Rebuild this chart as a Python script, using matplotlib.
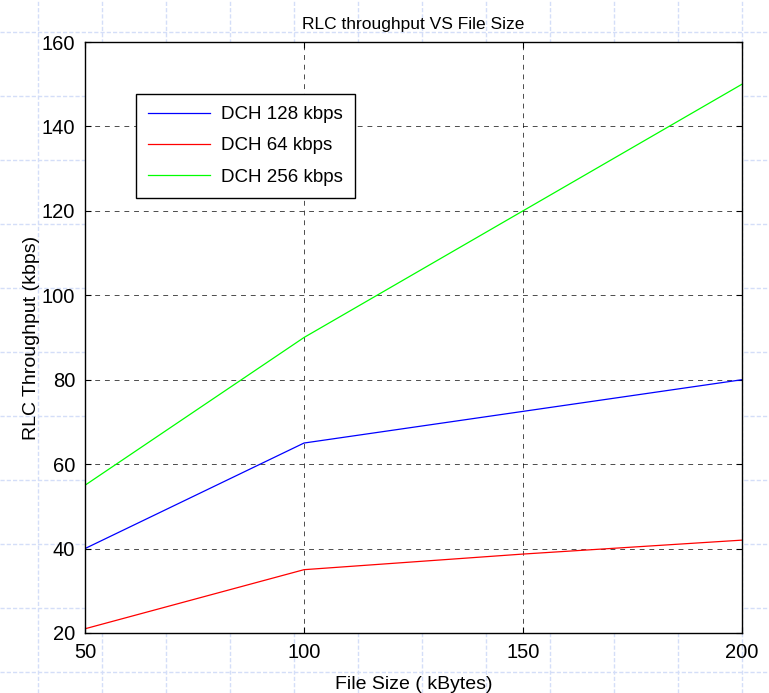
import numpy as np
import matplotlib.pyplot as plt

plt.rcParams['font.family'] = ['Liberation Sans', 'DejaVu Sans']

file_size = [50, 100, 150, 200]
dch_128 = [40, 65, 72.5, 80]
dch_64 = [21, 35, 38.7, 42]
dch_256 = [55, 90, 120, 150]

W, H = 769, 693
fig = plt.figure(figsize=(W/100, H/100), dpi=100)

# faint slide-style background grid
bg = fig.add_axes([0, 0, 1, 1], zorder=-1)
bg.set_xlim(0, W)
bg.set_ylim(H, 0)
bg.axis('off')
for gx in np.arange(38, W, 64):
    bg.axvline(gx, color='#d4def8', lw=1, ls=(0, (3, 1.5)))
for gy in np.arange(32, H, 64):
    bg.axhline(gy, color='#d4def8', lw=1, ls=(0, (3, 1.5)))

ax = fig.add_axes([85/W, 1-633/H, (742-85)/W, (633-42)/H])
ax.plot(file_size, dch_128, color='#0000ff', lw=0.9, label='DCH 128 kbps')
ax.plot(file_size, dch_64, color='#ff0000', lw=0.9, label='DCH 64 kbps')
ax.plot(file_size, dch_256, color='#00ff00', lw=0.9, label='DCH 256 kbps')

ax.set_xlim(50, 200)
ax.set_ylim(20, 160)
ax.set_xticks([50, 100, 150, 200])
ax.set_yticks(range(20, 161, 20))
ax.grid(True, color='black', ls=(0, (5, 5)), lw=0.7, alpha=0.7)
ax.tick_params(direction='in', length=4, labelsize=14.5, top=True, right=True, pad=7)
for s in ax.spines.values():
    s.set_linewidth(1.0)

ax.set_title('RLC throughput VS File Size', fontsize=12.5, pad=9)
ax.set_xlabel('File Size ( kBytes)', fontsize=14, labelpad=10)
ax.set_ylabel('RLC Throughput (kbps)', fontsize=14, labelpad=1)

leg = ax.legend(loc='upper left', bbox_to_anchor=(51/657, 1-52/591), fontsize=13.5,
                frameon=True, fancybox=False, edgecolor='black', framealpha=1,
                handlelength=3.3, handletextpad=0.6, borderpad=0.65,
                labelspacing=0.75, borderaxespad=0)
leg.get_frame().set_linewidth(1.0)

fig.savefig('out.png', dpi=100)
